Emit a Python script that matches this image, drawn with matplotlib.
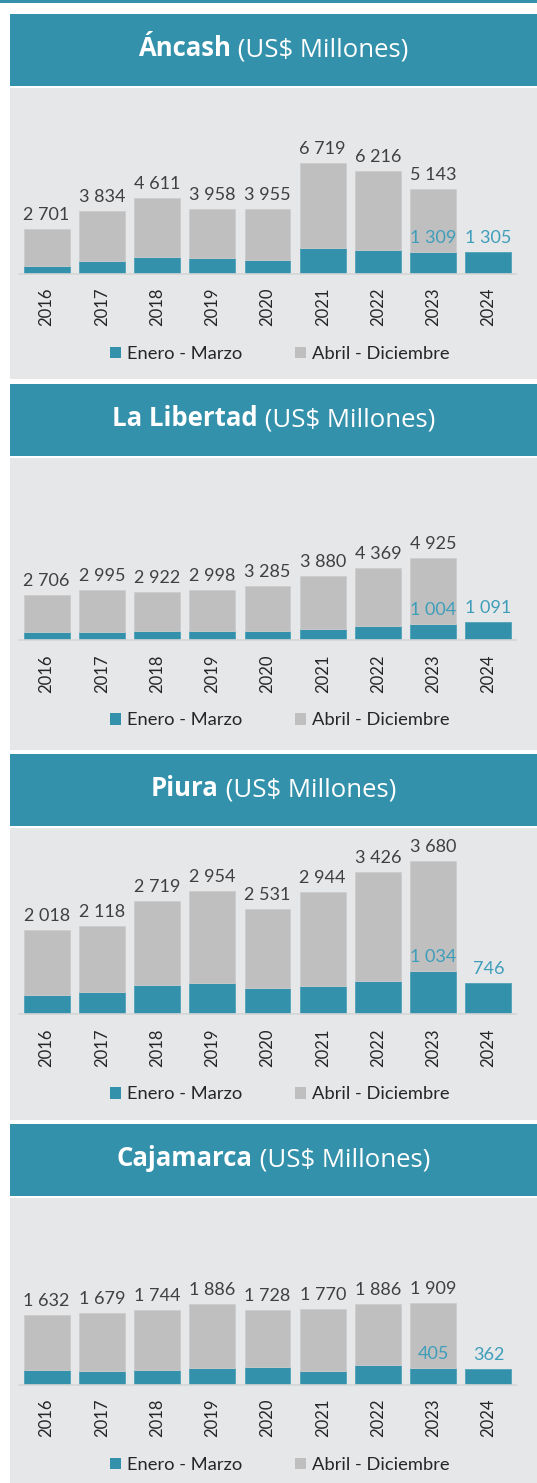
import matplotlib
matplotlib.use('Agg')
from matplotlib import pyplot as plt
from matplotlib.patches import Rectangle, Patch
import numpy as np

# datos (US$ millones)
years = ['2016', '2017', '2018', '2019', '2020', '2021', '2022', '2023', '2024']
regions = ['Áncash', 'La Libertad', 'Piura', 'Cajamarca']

ancash_total = [2701, 3834, 4611, 3958, 3955, 6719, 6216, 5143]
ancash_q1 = [500, 790, 1030, 950, 850, 1570, 1470, 1309, 1305]
libertad_total = [2706, 2995, 2922, 2998, 3285, 3880, 4369, 4925]
libertad_q1 = [500, 500, 580, 560, 560, 660, 830, 1004, 1091]
piura_total = [2018, 2118, 2719, 2954, 2531, 2944, 3426, 3680]
piura_q1 = [465, 545, 695, 750, 640, 670, 790, 1034, 746]
cajamarca_total = [1632, 1679, 1744, 1886, 1728, 1770, 1886, 1909]
cajamarca_q1 = [355, 330, 337, 400, 407, 330, 463, 405, 362]

totals = [ancash_total, libertad_total, piura_total, cajamarca_total]
q1s = [ancash_q1, libertad_q1, piura_q1, cajamarca_q1]

TEAL = '#3491AB'
TEAL_TXT = '#3E9EBA'
BAR_GRAY = '#BFBFBF'
PANEL = '#E6E7E9'
TXT = '#404040'

W, H = 537, 1483
fig = plt.figure(figsize=(W / 100, H / 100), dpi=100)
fig.patch.set_facecolor('white')

def rect(x0, y0, x1, y1):
    # pixeles (origen arriba-izquierda) -> coordenadas de figura
    return [x0 / W, 1 - y1 / H, (x1 - x0) / W, (y1 - y0) / H]

def fig_box(x0, y0, x1, y1, color):
    r = rect(x0, y0, x1, y1)
    fig.patches.append(Rectangle((r[0], r[1]), r[2], r[3], transform=fig.transFigure,
                                 facecolor=color, edgecolor='none', zorder=-1))

# linea superior
fig_box(0, 0, W, 3, TEAL)

header_top = [14, 384, 754, 1124]
gray_bottom = [379, 750, 1120, 1483]
baseline = [274, 640.3, 1014.3, 1385]
ymax = [11259, 10950, 4472, 4337]

renderer = fig.canvas.get_renderer()
x = np.arange(len(years))

for k in range(4):
    ht = header_top[k]
    fig_box(10, ht, W, ht + 72, TEAL)
    fig_box(10, ht + 74, W, gray_bottom[k], PANEL)

    # titulo: parte en negrita + parte normal, centrado
    ty = 1 - (ht + 42.5) / H
    t1 = fig.text(0, ty, regions[k], fontsize=18.5, fontweight='bold', color='white',
                  family='Open Sans', va='baseline', ha='left')
    t2 = fig.text(0, ty, ' (US$ Millones)', fontsize=18.5, color='white',
                  family='Open Sans', va='baseline', ha='left')
    w1 = t1.get_window_extent(renderer).width
    w2 = t2.get_window_extent(renderer).width
    cx = (10 + W) / 2
    x_start = cx - (w1 + w2) / 2
    t1.set_x(x_start / W)
    t2.set_x((x_start + w1) / W)

    ax = fig.add_axes(rect(19, ht + 74, 516, baseline[k]))
    ax.set_facecolor('none')
    tot = totals[k]
    q1 = q1s[k]
    rest = [tot[i] - q1[i] for i in range(len(tot))]
    ax.bar(x, q1, width=0.83, color=TEAL, edgecolor='#4FA2B9', linewidth=0.6, zorder=2)
    ax.bar(x[:len(tot)], rest, bottom=q1[:len(tot)], width=0.83,
           color=BAR_GRAY, edgecolor='#CDCDCD', linewidth=0.6, zorder=2)
    ax.set_xlim(-0.5, len(years) - 0.5)
    ax.set_ylim(0, ymax[k])

    for i, v in enumerate(tot):
        ax.annotate(f'{v:,}'.replace(',', ' '), (i, v), xytext=(0, 6.5),
                    textcoords='offset points', ha='center', va='baseline',
                    fontsize=13, color=TXT, family='Lato', zorder=3)
    for i in [7, 8]:
        ax.annotate(f'{q1[i]:,}'.replace(',', ' '), (i, q1[i]), xytext=(0, 6.5),
                    textcoords='offset points', ha='center', va='baseline',
                    fontsize=13, color=TEAL_TXT, family='Lato', zorder=3)

    for s in ['top', 'left', 'right']:
        ax.spines[s].set_visible(False)
    ax.spines['bottom'].set_color('#D5D5D5')
    ax.spines['bottom'].set_linewidth(1.2)
    ax.set_yticks([])
    ax.set_xticks(x)
    ax.set_xticklabels(years, rotation=90, fontsize=12, color='#262626', family='Lato')
    ax.tick_params(axis='x', length=0, pad=10)

    handles = [Patch(facecolor=TEAL, edgecolor='none'),
               Patch(facecolor=BAR_GRAY, edgecolor='none')]
    fig.legend(handles, ['Enero - Marzo', 'Abril - Diciembre'], loc='center',
               bbox_to_anchor=(280 / W, 1 - (baseline[k] + 80) / H), ncol=2,
               frameon=False, prop={'family': 'Lato', 'size': 13.2},
               handlelength=0.6, handleheight=0.6, handletextpad=0.35,
               columnspacing=2.85, labelcolor='#262626')

fig.savefig('out.png', dpi=100)
